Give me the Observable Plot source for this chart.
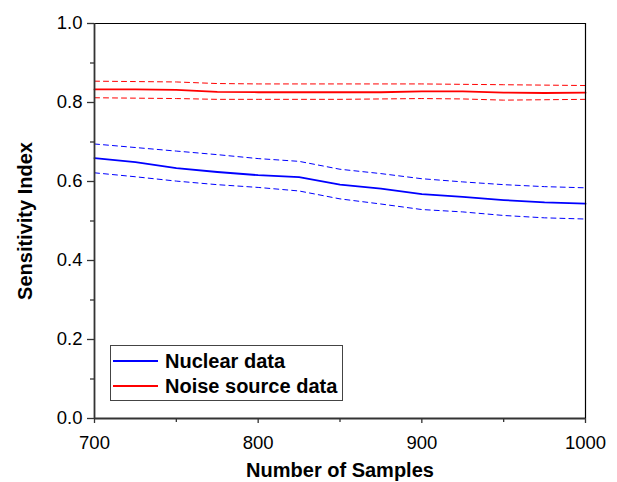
<!DOCTYPE html>
<html><head><meta charset="utf-8">
<script src="https://cdn.jsdelivr.net/npm/d3@7"></script>
<script src="https://cdn.jsdelivr.net/npm/@observablehq/plot@0.6"></script>
<style>
body{margin:0;background:#fff;font-family:"Liberation Sans",Arial,sans-serif;}
#wrap{position:relative;width:617px;height:482px;}
#legend{position:absolute;left:110px;top:345px;width:233px;height:56px;border:1.3px solid #444;background:#fff;box-sizing:border-box;font-weight:bold;font-size:20px;color:#000;}
.row{position:absolute;left:2px;display:flex;align-items:center;height:24px;}
.sw{width:45px;height:0;border-top:2px solid;margin-right:7px;}
</style>
</head><body>
<div id="wrap"><div id="chart"></div>
<div id="legend">
<div class="row" style="top:3px"><div class="sw" style="border-color:#0000ff"></div>Nuclear data</div>
<div class="row" style="top:28px"><div class="sw" style="border-color:#ff0000"></div>Noise source data</div>
</div></div>
<script>
const samples = [700,725,750,775,800,825,850,875,900,925,950,975,1000];
const nuclearMean  = [0.659,0.649,0.634,0.624,0.616,0.611,0.592,0.582,0.568,0.561,0.553,0.547,0.544];
const nuclearUpper = [0.695,0.686,0.677,0.668,0.658,0.651,0.631,0.620,0.607,0.599,0.592,0.587,0.584];
const nuclearLower = [0.622,0.612,0.601,0.592,0.585,0.576,0.556,0.543,0.529,0.523,0.514,0.508,0.505];
const noiseMean  = [0.833,0.833,0.832,0.827,0.826,0.826,0.826,0.826,0.828,0.828,0.825,0.824,0.825];
const noiseUpper = [0.854,0.853,0.852,0.848,0.847,0.847,0.847,0.847,0.847,0.846,0.845,0.844,0.843];
const noiseLower = [0.812,0.811,0.810,0.808,0.808,0.808,0.808,0.809,0.810,0.809,0.806,0.807,0.808];
const xTicks = [700,800,900,1000];
const xMinor = [750,850,950];
const yTicks = [0,0.2,0.4,0.6,0.8,1.0];
const yMinor = [0.1,0.3,0.5,0.7,0.9];

const mk = (ys) => samples.map((x,i)=>({x, y: ys[i]}));

const chart = Plot.plot({
  width: 617, height: 482,
  marginLeft: 94, marginRight: 32, marginTop: 23, marginBottom: 64,
  style: {fontFamily: '"Liberation Sans", Arial, sans-serif', fontSize: "18.5px", color: "#000", background: "#fff"},
  x: {domain: [700,1000]},
  y: {domain: [0,1]},
  marks: [
    Plot.line(mk(noiseUpper), {x:"x", y:"y", stroke:"#ff0000", strokeWidth:1, strokeDasharray:"5,4"}),
    Plot.line(mk(noiseLower), {x:"x", y:"y", stroke:"#ff0000", strokeWidth:1, strokeDasharray:"5,4"}),
    Plot.line(mk(noiseMean), {x:"x", y:"y", stroke:"#ff0000", strokeWidth:1.8}),
    Plot.line(mk(nuclearUpper), {x:"x", y:"y", stroke:"#0000ff", strokeWidth:1, strokeDasharray:"5,4"}),
    Plot.line(mk(nuclearLower), {x:"x", y:"y", stroke:"#0000ff", strokeWidth:1, strokeDasharray:"5,4"}),
    Plot.line(mk(nuclearMean), {x:"x", y:"y", stroke:"#0000ff", strokeWidth:1.8}),
    Plot.ruleY([1], {stroke:"#000", strokeWidth:1.2}),
    Plot.ruleX([1000], {stroke:"#000", strokeWidth:1.2}),
    Plot.axisX(xMinor, {tickSize:4, tickFormat:()=>"", stroke:"#333", strokeWidth:1.3, label:null}),
    Plot.axisY(yMinor, {tickSize:4, tickFormat:()=>"", stroke:"#333", strokeWidth:1.3, label:null}),
    Plot.axisX(xTicks, {tickSize:5, tickPadding:12, fontSize:18.5, stroke:"#333", strokeWidth:1.3, tickFormat:d=>String(d), label:null}),
    Plot.axisX({ticks:[], label:"Number of Samples", labelAnchor:"center", labelArrow:"none", labelOffset:58, fontSize:20, fontWeight:"bold"}),
    Plot.axisY(yTicks, {tickSize:7, tickPadding:5, fontSize:18.5, stroke:"#333", strokeWidth:1.3, tickFormat:d3.format(".1f"), label:null}),
    Plot.axisY({ticks:[], label:"Sensitivity Index", labelAnchor:"center", labelArrow:"none", labelOffset:77, fontSize:20, fontWeight:"bold"}),
    Plot.ruleX([700], {stroke:"#333", strokeWidth:1.8}),
    Plot.ruleY([0], {stroke:"#333", strokeWidth:1.8})
  ]
});
document.getElementById("chart").appendChild(chart);
</script>
</body></html>
